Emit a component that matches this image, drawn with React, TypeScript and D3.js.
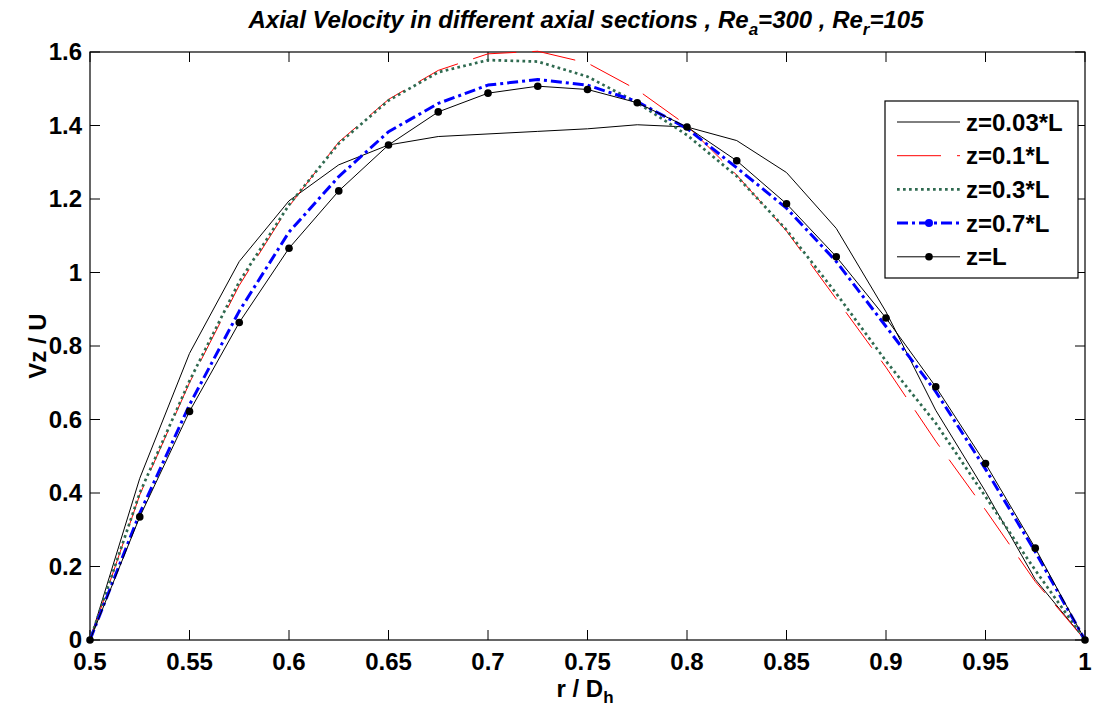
import React from "react";
import * as d3 from "d3";

const rValues = [0.5, 0.525, 0.55, 0.575, 0.6, 0.625, 0.65, 0.675, 0.7, 0.725, 0.75, 0.775, 0.8, 0.825, 0.85, 0.875, 0.9, 0.925, 0.95, 0.975, 1.0];
const z003 = [0, 0.44, 0.78, 1.03, 1.195, 1.293, 1.347, 1.37, 1.377, 1.384, 1.391, 1.402, 1.396, 1.359, 1.272, 1.12, 0.893, 0.625, 0.404, 0.165, 0];
const z01 = [0, 0.395, 0.7, 0.965, 1.18, 1.355, 1.471, 1.55, 1.595, 1.602, 1.57, 1.497, 1.4, 1.265, 1.113, 0.928, 0.742, 0.541, 0.354, 0.159, 0];
const z03 = [0, 0.4, 0.705, 0.975, 1.184, 1.351, 1.468, 1.545, 1.578, 1.574, 1.533, 1.462, 1.374, 1.262, 1.116, 0.943, 0.759, 0.59, 0.39, 0.19, 0];
const z07 = [0, 0.345, 0.64, 0.895, 1.11, 1.261, 1.383, 1.46, 1.51, 1.525, 1.51, 1.465, 1.392, 1.285, 1.175, 1.03, 0.853, 0.676, 0.465, 0.24, 0];
const zL = [0, 0.335, 0.622, 0.864, 1.066, 1.222, 1.347, 1.437, 1.488, 1.507, 1.498, 1.462, 1.396, 1.304, 1.187, 1.043, 0.876, 0.689, 0.48, 0.25, 0];

const xTicks = [0.5, 0.55, 0.6, 0.65, 0.7, 0.75, 0.8, 0.85, 0.9, 0.95, 1];
const yTicks = [0, 0.2, 0.4, 0.6, 0.8, 1, 1.2, 1.4, 1.6];
const seriesLabels = ["z=0.03*L", "z=0.1*L", "z=0.3*L", "z=0.7*L", "z=L"];

const styles = [
  { color: "#000000", width: 1, dash: "", marker: false },
  { color: "#ff0000", width: 1, dash: "44,16", marker: false },
  { color: "#2f6a50", width: 2.7, dash: "2.7,3.3", marker: false },
  { color: "#0000ff", width: 3, dash: "11,4,3,4", marker: true },
  { color: "#000000", width: 1, dash: "", marker: true },
];

export default function App() {
  const W = 1093, H = 711;
  const x = d3.scaleLinear().domain([0.5, 1]).range([90, 1085]);
  const y = d3.scaleLinear().domain([0, 1.6]).range([640, 52]);
  const data = [z003, z01, z03, z07, zL];
  const line = d3.line<number>().x((_, i) => x(rValues[i])).y((d) => y(d));
  const font = "'Liberation Sans', Arial, Helvetica, sans-serif";
  const tl = 10;
  const legX = 885, legY = 101, legW = 193, legH = 177;
  const rowY = (i: number) => 122 + i * 33.7;

  return (
    <svg width={W} height={H} style={{ position: "absolute", left: 0, top: 0, background: "#fff" }} fontFamily={font}>
      <rect x={0} y={0} width={W} height={H} fill="#fff" />
      <defs>
        <clipPath id="plotclip">
          <rect x={90} y={50} width={995} height={592} />
        </clipPath>
      </defs>
      {/* title */}
      <text x={586} y={28} textAnchor="middle" fontSize={24} fontWeight="bold" fontStyle="italic">
        Axial Velocity in different axial sections , Re<tspan fontSize={17} dy={7}>a</tspan>
        <tspan dy={-7}>=300 , Re</tspan>
        <tspan fontSize={17} dy={7}>r</tspan>
        <tspan dy={-7}>=105</tspan>
      </text>
      {/* axes box */}
      <rect x={90} y={52} width={995} height={588} fill="none" stroke="#000" strokeWidth={1.2} />
      {xTicks.map((t) => (
        <g key={"xt" + t}>
          <line x1={x(t)} x2={x(t)} y1={640} y2={640 - tl} stroke="#000" strokeWidth={1} />
          <line x1={x(t)} x2={x(t)} y1={52} y2={52 + tl} stroke="#000" strokeWidth={1} />
          <text x={x(t)} y={670} textAnchor="middle" fontSize={24} fontWeight="bold">
            {String(t)}
          </text>
        </g>
      ))}
      {yTicks.map((t) => (
        <g key={"yt" + t}>
          <line x1={90} x2={90 + tl} y1={y(t)} y2={y(t)} stroke="#000" strokeWidth={1} />
          <line x1={1085} x2={1085 - tl} y1={y(t)} y2={y(t)} stroke="#000" strokeWidth={1} />
          <text x={82} y={y(t) + 8} textAnchor="end" fontSize={24} fontWeight="bold">
            {String(t)}
          </text>
        </g>
      ))}
      {/* axis labels */}
      <text transform="translate(46,346) rotate(-90)" textAnchor="middle" fontSize={24} fontWeight="bold">
        Vz / U
      </text>
      <text x={585} y={697} textAnchor="middle" fontSize={24} fontWeight="bold">
        r / D<tspan fontSize={17} dy={6}>h</tspan>
      </text>
      {/* series */}
      <g clipPath="url(#plotclip)">
        {data.map((vals, si) => (
          <path
            key={"s" + si}
            d={line(vals) || ""}
            fill="none"
            stroke={styles[si].color}
            strokeWidth={styles[si].width}
            strokeDasharray={styles[si].dash || undefined}
            strokeLinejoin="round"
          />
        ))}
      </g>
      {zL.map((v, i) => (
        <circle key={"m" + i} cx={x(rValues[i])} cy={y(v)} r={3.8} fill="#000" />
      ))}
      {/* legend */}
      <rect x={legX} y={legY} width={legW} height={legH} fill="#fff" stroke="#000" strokeWidth={1.2} />
      {seriesLabels.map((lab, i) => (
        <g key={"lg" + i}>
          <line
            x1={897}
            x2={960}
            y1={rowY(i)}
            y2={rowY(i)}
            stroke={styles[i].color}
            strokeWidth={styles[i].width}
            strokeDasharray={styles[i].dash || undefined}
          />
          {styles[i].marker && <circle cx={929} cy={rowY(i)} r={i === 3 ? 4 : 3.8} fill={styles[i].color} />}
          <text x={966} y={rowY(i) + 8.5} fontSize={24} fontWeight="bold">
            {lab}
          </text>
        </g>
      ))}
    </svg>
  );
}
